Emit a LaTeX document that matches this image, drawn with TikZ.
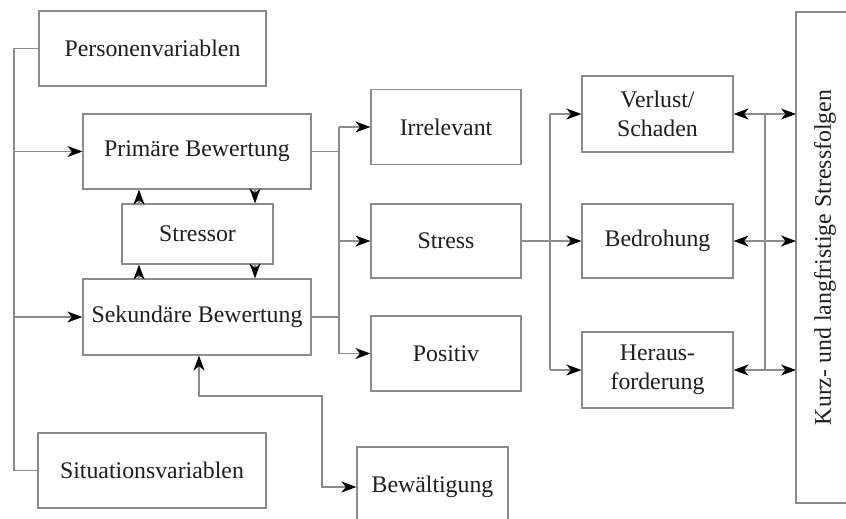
\documentclass[tikz,border=0pt]{standalone}
\usepackage{fontspec}
\setmainfont{Liberation Serif}
\usetikzlibrary{arrows.meta}
\definecolor{linegray}{HTML}{8C8C8C}
\definecolor{txt}{HTML}{1E1E1E}
\tikzset{
  box/.style={draw=linegray, line width=1.2pt, rectangle, inner sep=0pt,
    text=txt, font=\fontsize{23.8}{29}\selectfont, align=center},
  conn/.style={draw=linegray, line width=1.2pt},
  arr/.style={conn, -{Stealth[length=15pt,width=11pt,inset=4.5pt,color=black]}},
  arrb/.style={conn, {Stealth[length=15pt,width=11pt,inset=4.5pt,color=black]}-{Stealth[length=15pt,width=11pt,inset=4.5pt,color=black]}}
}
\begin{document}
\begin{tikzpicture}[x=1pt,y=-1pt]
\useasboundingbox (0,0) rectangle (846,519);
\clip (0,0) rectangle (846,519);
\fill[white] (0,0) rectangle (846,519);

% boxes
\node[box, minimum width=227pt, minimum height=75pt] (pers) at (152.5,48.5) {Personenvariablen};
\node[box, minimum width=228pt, minimum height=75pt] (prim) at (197,151.5) {Primäre Bewertung};
\node[box, minimum width=151pt, minimum height=60pt] (stressor) at (197.5,234) {Stressor};
\node[box, minimum width=228pt, minimum height=76pt] (sek) at (197,317) {Sekundäre Bewertung};
\node[box, minimum width=228pt, minimum height=75pt] (sit) at (152,470.5) {Situationsvariablen};
\node[box, minimum width=150pt, minimum height=75pt] (irr) at (446,127) {Irrelevant};
\node[box, minimum width=150pt, minimum height=74pt] (stress) at (446,241) {Stress};
\node[box, minimum width=150pt, minimum height=75pt] (pos) at (446,353.5) {Positiv};
\node[box, minimum width=151pt, minimum height=76pt] (verl) at (657.5,114) {Verlust/\\Schaden};
\node[box, minimum width=151pt, minimum height=74pt] (bedr) at (657.5,241) {Bedrohung};
\node[box, minimum width=151pt, minimum height=76pt] (hera) at (657.5,370) {Heraus-\\forderung};
\node[box, minimum width=151pt, minimum height=80pt] (bew) at (432.5,487) {Bewältigung};
\node[box, rotate=90, minimum width=491pt, minimum height=58pt] (folg) at (825,257.5) {Kurz- und langfristige Stressfolgen};

% helper coordinates
\coordinate (lt) at (14,48.5);
\coordinate (lb) at (14,470.5);
\coordinate (m1) at (339,127);
\coordinate (m1b) at (339,353.5);
\coordinate (m2) at (550,114);
\coordinate (m2b) at (550,370);
\coordinate (r) at (765,114);
\coordinate (rb) at (765,370);
\coordinate (xu) at (139,0);
\coordinate (xd) at (255,0);
\coordinate (bx) at (199,0);
\coordinate (bk) at (322,396);
\coordinate (fl) at (796,0);

% left trunk
\draw[conn] (pers.west) -- (lt) -- (lb) -- (sit.west);
\draw[arr] (lt |- prim.west) -- (prim.west);
\draw[arr] (lt |- sek.west) -- (sek.west);

% stressor links
\draw[arr] (stressor.north -| xu) -- (prim.south -| xu);
\draw[arr] (prim.south -| xd) -- (stressor.north -| xd);
\draw[arr] (sek.north -| xu) -- (stressor.south -| xu);
\draw[arr] (stressor.south -| xd) -- (sek.north -| xd);

% appraisal outcomes
\draw[conn] (prim.east) -- (prim.east -| m1);
\draw[conn] (sek.east) -- (sek.east -| m1);
\draw[conn] (m1) -- (m1b);
\draw[arr] (m1) -- (irr.west);
\draw[arr] (m1 |- stress.west) -- (stress.west);
\draw[arr] (m1b) -- (pos.west);

% stress types
\draw[conn] (stress.east) -- (stress.east -| m2);
\draw[conn] (m2) -- (m2b);
\draw[arr] (m2) -- (verl.west);
\draw[arr] (m2 |- bedr.west) -- (bedr.west);
\draw[arr] (m2b) -- (hera.west);

% consequences
\draw[conn] (r) -- (rb);
\draw[arr] (r) -- (verl.east);
\draw[arr] (r) -- (r -| fl);
\draw[arr] (r |- bedr.east) -- (bedr.east);
\draw[arr] (r |- bedr.east) -- (bedr.east -| fl);
\draw[arr] (rb) -- (hera.east);
\draw[arr] (rb) -- (rb -| fl);

% coping
\draw[arrb] (sek.south -| bx) |- (bk) |- (bew.west);
\end{tikzpicture}
\end{document}
